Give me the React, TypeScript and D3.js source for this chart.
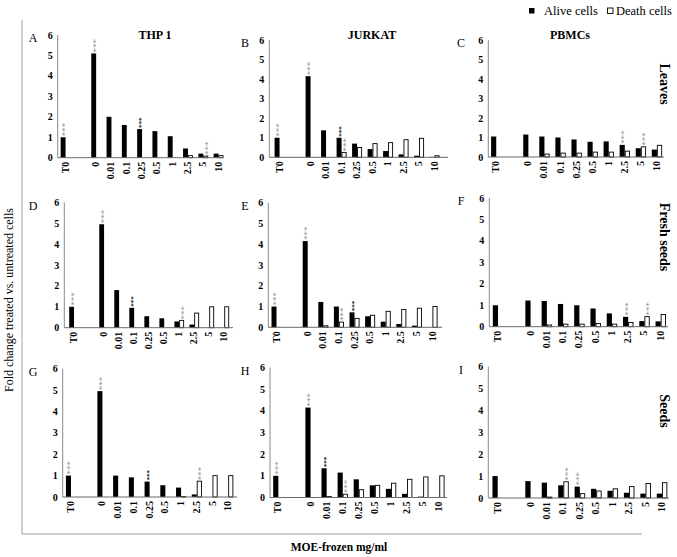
import React from "react";
import * as d3 from "d3";

// ---------- data ----------
const categories = ["T0", "0", "0.01", "0.1", "0.25", "0.5", "1", "2.5", "5", "10"];
const bandDomain = ["T0", "gap", "0", "0.01", "0.1", "0.25", "0.5", "1", "2.5", "5", "10"];
const yTicks = [0, 1, 2, 3, 4, 5, 6];
const cellLines = ["THP 1", "JURKAT", "PBMCs"];
const extracts = ["Leaves", "Fresh seeds", "Seeds"];
const panelLetters = ["A", "B", "C", "D", "E", "F", "G", "H", "I"];
const legendLabels = ["Alive cells", "Death cells"];
const yAxisTitle = "Fold change treated vs. untreated cells";
const xAxisTitle = "MOE-frozen mg/ml";

// Leaves
const aliveA = [1.0, 5.1, 2.0, 1.6, 1.4, 1.3, 1.05, 0.45, 0.2, 0.2];
const deathA = [0, 0, 0, 0, 0, 0, 0, 0.1, 0.08, 0.1];
const aliveB = [1.0, 4.15, 1.38, 1.0, 0.7, 0.42, 0.32, 0.15, 0.08, 0.02];
const deathB = [0, 0, 0, 0.25, 0.5, 0.7, 0.75, 0.9, 0.97, 0.08];
const aliveC = [1.05, 1.15, 1.05, 1.0, 0.9, 0.78, 0.8, 0.62, 0.45, 0.38];
const deathC = [0, 0, 0.15, 0.2, 0.2, 0.25, 0.25, 0.3, 0.52, 0.6];
// Fresh seeds
const aliveD = [1.0, 4.95, 1.8, 0.95, 0.55, 0.45, 0.3, 0.15, 0, 0];
const deathD = [0, 0, 0, 0, 0, 0, 0.35, 0.7, 1.0, 1.0];
const aliveE = [1.0, 4.15, 1.22, 1.0, 0.72, 0.53, 0.27, 0.16, 0.08, 0];
const deathE = [0, 0, 0.07, 0.25, 0.43, 0.58, 0.77, 0.86, 0.92, 1.0];
const aliveF = [1.0, 1.22, 1.2, 1.06, 1.0, 0.85, 0.62, 0.46, 0.26, 0.25];
const deathF = [0, 0, 0.08, 0.12, 0.12, 0.15, 0.12, 0.2, 0.47, 0.57];
// Seeds
const aliveG = [1.0, 4.95, 1.0, 0.92, 0.72, 0.55, 0.44, 0.12, 0, 0];
const deathG = [0, 0, 0, 0, 0, 0, 0.02, 0.74, 1.0, 1.0];
const aliveH = [1.0, 4.15, 1.35, 1.15, 0.84, 0.56, 0.4, 0.17, 0.04, 0];
const deathH = [0, 0, 0.04, 0.15, 0.36, 0.56, 0.66, 0.84, 0.95, 1.0];
const aliveI = [1.0, 0.77, 0.7, 0.58, 0.52, 0.42, 0.33, 0.24, 0.2, 0.2];
const deathI = [0, 0, 0.04, 0.74, 0.2, 0.32, 0.42, 0.52, 0.66, 0.7];

// significance marks: [category, series, style]  (g = grey ***, k = dark •••)
const starsA = [["T0", "alive", "g"], ["0", "alive", "g"], ["0.25", "alive", "k"], ["5", "death", "g"]];
const starsB = [["T0", "alive", "g"], ["0", "alive", "g"], ["0.1", "alive", "k"], ["0.1", "death", "g"]];
const starsC = [["2.5", "alive", "g"], ["5", "death", "g"]];
const starsD = [["T0", "alive", "g"], ["0", "alive", "g"], ["0.1", "alive", "k"], ["1", "death", "g"]];
const starsE = [["T0", "alive", "g"], ["0", "alive", "g"], ["0.1", "death", "g"], ["0.25", "alive", "k"]];
const starsF = [["2.5", "alive", "g"], ["5", "death", "g"]];
const starsG = [["T0", "alive", "g"], ["0", "alive", "g"], ["0.25", "alive", "k"], ["2.5", "death", "g"]];
const starsH = [["T0", "alive", "g"], ["0", "alive", "g"], ["0.01", "alive", "k"], ["0.1", "death", "g"]];
const starsI = [["0.1", "death", "g"], ["0.25", "alive", "g"]];

const panelAlive = [aliveA, aliveB, aliveC, aliveD, aliveE, aliveF, aliveG, aliveH, aliveI];
const panelDeath = [deathA, deathB, deathC, deathD, deathE, deathF, deathG, deathH, deathI];
const panelStars = [starsA, starsB, starsC, starsD, starsE, starsF, starsG, starsH, starsI];

// ---------- layout ----------
const panelLayout = [
  { axisX: 57.7, yTop: 35, yBase: 157.7, xStart: 57.9, bw: 15.3, axisEnd: 223 },
  { axisX: 269.3, yTop: 40, yBase: 157.3, xStart: 271.8, bw: 15.5, axisEnd: 448 },
  { axisX: 488.3, yTop: 40, yBase: 157, xStart: 488.2, bw: 16.07, axisEnd: 664 },
  { axisX: 64.3, yTop: 202.3, yBase: 327.7, xStart: 66.5, bw: 15.03, axisEnd: 233 },
  { axisX: 268.3, yTop: 202.7, yBase: 327.3, xStart: 268.7, bw: 15.6, axisEnd: 442 },
  { axisX: 489.3, yTop: 198, yBase: 326.7, xStart: 489.9, bw: 16.27, axisEnd: 668 },
  { axisX: 62.7, yTop: 368.7, yBase: 497, xStart: 63.1, bw: 15.73, axisEnd: 237 },
  { axisX: 270, yTop: 367.5, yBase: 497.5, xStart: 270.3, bw: 16.1, axisEnd: 447 },
  { axisX: 488.3, yTop: 366.5, yBase: 498, xStart: 489.5, bw: 16.43, axisEnd: 669 },
];
const letterX = [33, 245, 461];
const titleX = [155, 372, 570];
const rowLabelY = [84, 237, 411];

const SERIF = "'Liberation Serif', 'Times New Roman', Times, serif";

function Panel({ idx }: { idx: number }) {
  const L = panelLayout[idx];
  const col = idx % 3;
  const row = Math.floor(idx / 3);
  const alive = panelAlive[idx];
  const death = panelDeath[idx];
  const stars = panelStars[idx];

  const y = d3.scaleLinear().domain([0, 6]).range([L.yBase, L.yTop]);
  const x = d3
    .scaleBand<string>()
    .domain(bandDomain)
    .range([L.xStart, L.xStart + L.bw * bandDomain.length])
    .padding(0);
  const barW = L.bw * 0.32;
  const sub = d3.scaleBand<string>().domain(["alive", "death"]).range([-barW, barW]).padding(0);
  const cx = (c: string) => (x(c) as number) + x.bandwidth() / 2;

  return (
    <g>
      {categories.map((c, i) => (
        <g key={c}>
          {alive[i] > 0 && (
            <rect
              x={cx(c) + (sub("alive") as number)}
              y={y(alive[i])}
              width={sub.bandwidth()}
              height={L.yBase - y(alive[i])}
              fill="#000"
            />
          )}
          {death[i] > 0 && (
            <rect
              x={cx(c) + (sub("death") as number) + 0.4}
              y={y(death[i])}
              width={sub.bandwidth() - 0.8}
              height={L.yBase - y(death[i])}
              fill="#fff"
              stroke="#000"
              strokeWidth={0.9}
            />
          )}
        </g>
      ))}
      <line x1={L.axisX} x2={L.axisX} y1={L.yTop} y2={L.yBase} stroke="#8a8a8a" strokeWidth={1} />
      <line x1={L.axisX} x2={L.axisEnd} y1={L.yBase} y2={L.yBase} stroke="#6a6a6a" strokeWidth={1} />
      {yTicks.map((t) => (
        <text
          key={t}
          x={L.axisX - 5}
          y={y(t)}
          dy="0.35em"
          textAnchor="end"
          fontFamily={SERIF}
          fontWeight="bold"
          fontSize={10}
        >
          {t}
        </text>
      ))}
      {categories.map((c) => (
        <text
          key={c}
          transform={`translate(${cx(c) - 0.5},${L.yBase + 4}) rotate(-90)`}
          dy="0.35em"
          textAnchor="end"
          fontFamily={SERIF}
          fontWeight="bold"
          fontSize={10}
        >
          {c}
        </text>
      ))}
      {stars.map(([c, s, st], k) => {
        const i = categories.indexOf(c);
        const v = s === "alive" ? alive[i] : death[i];
        const bx = cx(c) + (sub(s) as number) + sub.bandwidth() / 2;
        const dark = st === "k";
        return (
          <text
            key={k}
            transform={`translate(${bx},${y(v) - 1}) rotate(-90)`}
            dy={dark ? "0.5em" : "0.55em"}
            textAnchor="start"
            fontFamily={SERIF}
            fontSize={dark ? 7 : 9}
            fontWeight={dark ? "bold" : "normal"}
            fill={dark ? "#222" : "#8c8c8c"}
          >
            ***
          </text>
        );
      })}
      <text x={letterX[col]} y={L.yTop + 3} dy="0.35em" textAnchor="middle" fontFamily={SERIF} fontSize={12}>
        {panelLetters[idx]}
      </text>
      {row === 0 && (
        <text x={titleX[col]} y={35} dy="0.35em" textAnchor="middle" fontFamily={SERIF} fontWeight="bold" fontSize={12}>
          {cellLines[col]}
        </text>
      )}
      {col === 2 && (
        <text
          transform={`translate(665,${rowLabelY[row]}) rotate(90)`}
          dy="0.35em"
          textAnchor="middle"
          fontFamily={SERIF}
          fontWeight="bold"
          fontSize={14}
        >
          {extracts[row]}
        </text>
      )}
    </g>
  );
}

export default function App() {
  return (
    <svg
      width={677}
      height={557}
      viewBox="0 0 677 557"
      style={{ position: "absolute", left: 0, top: 0, background: "#fff" }}
    >
      <rect x={0} y={0} width={677} height={557} fill="#fff" />
      <line x1={22} x2={22} y1={20} y2={534} stroke="#a0a0a0" strokeWidth={1} />
      <line x1={22} x2={642} y1={534} y2={534} stroke="#a0a0a0" strokeWidth={1} />
      {/* legend */}
      <rect x={529} y={8} width={5.5} height={5.5} fill="#000" />
      <text x={544} y={10.8} dy="0.35em" fontFamily={SERIF} fontSize={12.5}>
        {legendLabels[0]}
      </text>
      <rect x={607.5} y={8} width={5.5} height={5.5} fill="#fff" stroke="#000" strokeWidth={0.9} />
      <text x={616} y={10.8} dy="0.35em" fontFamily={SERIF} fontSize={12.5}>
        {legendLabels[1]}
      </text>
      {panelLayout.map((_, i) => (
        <Panel key={i} idx={i} />
      ))}
      <text
        transform={`translate(9,300) rotate(-90)`}
        dy="0.35em"
        textAnchor="middle"
        fontFamily={SERIF}
        fontSize={12}
      >
        {yAxisTitle}
      </text>
      <text x={339} y={547} dy="0.35em" textAnchor="middle" fontFamily={SERIF} fontWeight="bold" fontSize={11.5}>
        {xAxisTitle}
      </text>
    </svg>
  );
}
